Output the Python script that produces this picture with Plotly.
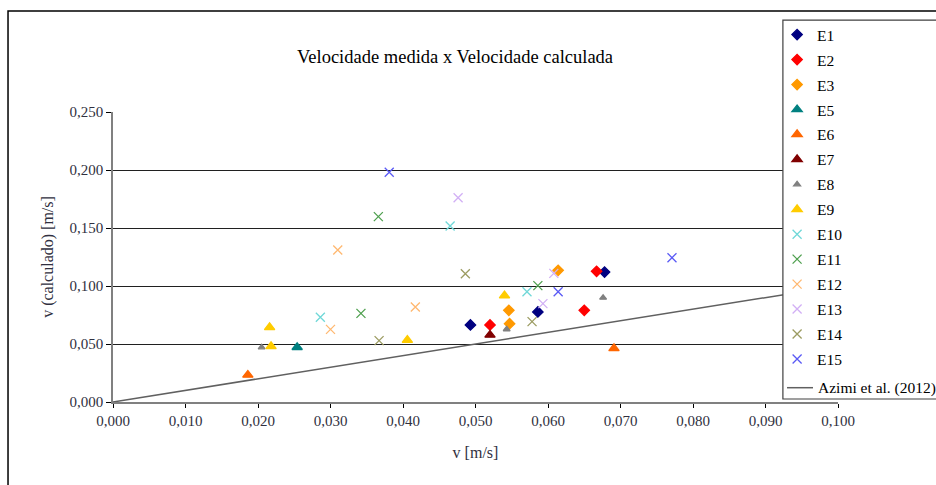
import plotly.graph_objects as go

series_names = ["E1", "E2", "E3", "E5", "E6", "E7", "E8", "E9",
                "E10", "E11", "E12", "E13", "E14", "E15"]

x_values = {
    "E1": [0.0493, 0.0586, 0.0678],
    "E2": [0.0520, 0.0650, 0.0667],
    "E3": [0.0546, 0.0547, 0.0614],
    "E5": [0.0254],
    "E6": [0.0186, 0.0691],
    "E7": [0.0520],
    "E8": [0.0205, 0.0543, 0.0676],
    "E9": [0.0216, 0.0218, 0.0406, 0.0540],
    "E10": [0.0286, 0.0465, 0.0571],
    "E11": [0.0342, 0.0366, 0.0586],
    "E12": [0.0300, 0.0310, 0.0417],
    "E13": [0.0476, 0.0593, 0.0608],
    "E14": [0.0367, 0.0486, 0.0578],
    "E15": [0.0381, 0.0614, 0.0771],
}
y_values = {
    "E1": [0.0664, 0.0776, 0.1120],
    "E2": [0.0664, 0.0790, 0.1127],
    "E3": [0.0790, 0.0675, 0.1135],
    "E5": [0.0472],
    "E6": [0.0233, 0.0462],
    "E7": [0.0578],
    "E8": [0.0471, 0.0627, 0.0899],
    "E9": [0.0644, 0.0480, 0.0534, 0.0917],
    "E10": [0.0730, 0.1517, 0.0951],
    "E11": [0.0764, 0.1598, 0.1003],
    "E12": [0.0626, 0.1310, 0.0819],
    "E13": [0.1761, 0.0848, 0.1109],
    "E14": [0.0529, 0.1106, 0.0693],
    "E15": [0.1980, 0.0951, 0.1244],
}

# reference line y = x (Azimi et al. 2012)
azimi_name = "Azimi et al. (2012)"
azimi_x = [0.0, 0.100]
azimi_y = [0.0, 0.100]

x_ticks = [0.0, 0.01, 0.02, 0.03, 0.04, 0.05, 0.06, 0.07, 0.08, 0.09, 0.10]
y_ticks = [0.0, 0.05, 0.10, 0.15, 0.20, 0.25]

styles = {
    "E1": ("diamond", "#000080", 8),
    "E2": ("diamond", "#FF0000", 8),
    "E3": ("diamond", "#FF9900", 8),
    "E5": ("triangle-up", "#008080", 9),
    "E6": ("triangle-up", "#FF6600", 9),
    "E7": ("triangle-up", "#800000", 9),
    "E8": ("triangle-up", "#808080", 6),
    "E9": ("triangle-up", "#FFCC00", 9),
    "E10": ("x-thin-open", "#70D8D8", 9),
    "E11": ("x-thin-open", "#4FA04F", 9),
    "E12": ("x-thin-open", "#FFB870", 9),
    "E13": ("x-thin-open", "#D2B0F5", 9),
    "E14": ("x-thin-open", "#9C9C62", 9),
    "E15": ("x-thin-open", "#5A5AF5", 9),
}

SERIF = "Liberation Serif, Times New Roman, serif"
AZIMI_COLOR = "#606060"

fig = go.Figure()

for name in series_names:
    symbol, color, size = styles[name]
    fig.add_trace(go.Scatter(
        x=x_values[name],
        y=y_values[name],
        mode="markers",
        name=name,
        legendgroup=name,
        marker=dict(symbol=symbol, color=color, size=size,
                    line=dict(width=1.3, color=color)),
    ))

# the last legend row runs past the page edge in the original, so it is
# drawn by hand (plotly would clip it inside the legend box)
fig.add_trace(go.Scatter(
    x=azimi_x,
    y=azimi_y,
    mode="lines",
    name=azimi_name,
    showlegend=False,
    line=dict(color=AZIMI_COLOR, width=1.5),
))

fig.update_layout(
    width=936,
    height=485,
    paper_bgcolor="white",
    plot_bgcolor="white",
    separators=",.",
    font=dict(family=SERIF, size=14, color="#000000"),
    margin=dict(l=113, r=98, t=112, b=83, autoexpand=False),
    showlegend=True,
    legend=dict(
        x=0.916, y=1.324, xanchor="left", yanchor="top",
        bgcolor="rgba(0,0,0,0)", borderwidth=0,
        font=dict(family=SERIF, size=15.5, color="#000000"),
        itemwidth=30,
        maxheight=420,
        tracegroupgap=1.8,
    ),
    annotations=[
        dict(text="Velocidade medida x Velocidade calculada",
             x=0.4717, y=1.19, xref="paper", yref="paper",
             xanchor="center", yanchor="middle",
             showarrow=False, font=dict(family=SERIF, size=18.5, color="#000000")),
        dict(text=azimi_name,
             x=0.9697, y=0.0493, xref="paper", yref="paper",
             xanchor="left", yanchor="middle",
             showarrow=False, font=dict(family=SERIF, size=15.5, color="#000000")),
    ],
    shapes=[
        # outer chart frame
        dict(type="rect", xref="paper", yref="paper",
             x0=-0.1448, y0=-0.5, x1=1.3, y1=1.348,
             line=dict(color="#000000", width=1.5), layer="below"),
        # legend box
        dict(type="rect", xref="paper", yref="paper",
             x0=0.924, y0=0.0103, x1=1.25, y1=1.317,
             fillcolor="white", line=dict(color="#404040", width=1.2),
             layer="above"),
        # legend sample for the Azimi line
        dict(type="line", xref="paper", yref="paper",
             x0=0.9297, y0=0.0493, x1=0.9655, y1=0.0493,
             line=dict(color=AZIMI_COLOR, width=1.5), layer="above"),
    ],
)

fig.update_xaxes(
    range=[0, 0.1],
    tickvals=x_ticks,
    tickformat=".3f",
    showgrid=False,
    zeroline=False,
    showline=True,
    linecolor="#808080",
    linewidth=2,
    ticks="outside",
    ticklen=4,
    tickcolor="#000000",
    tickfont=dict(family=SERIF, size=15, color="#303040"),
    title=dict(text="v [m/s]", font=dict(family=SERIF, size=16, color="#303040"), standoff=19),
)
fig.update_yaxes(
    range=[0, 0.25],
    tickvals=y_ticks,
    tickformat=".3f",
    showgrid=True,
    gridcolor="#202020",
    gridwidth=1,
    zeroline=False,
    showline=True,
    linecolor="#808080",
    linewidth=1.5,
    ticks="outside",
    ticklen=5,
    tickcolor="#000000",
    tickfont=dict(family=SERIF, size=15, color="#303040"),
    title=dict(text="v (calculado) [m/s]", font=dict(family=SERIF, size=16, color="#303040"), standoff=12),
)

# drop the default page margin so the 936x485 figure fills the window exactly
fig.write_html(
    "out.html",
    config={"displayModeBar": False},
    post_script="document.body.style.margin='0';document.body.style.overflow='hidden';",
)
